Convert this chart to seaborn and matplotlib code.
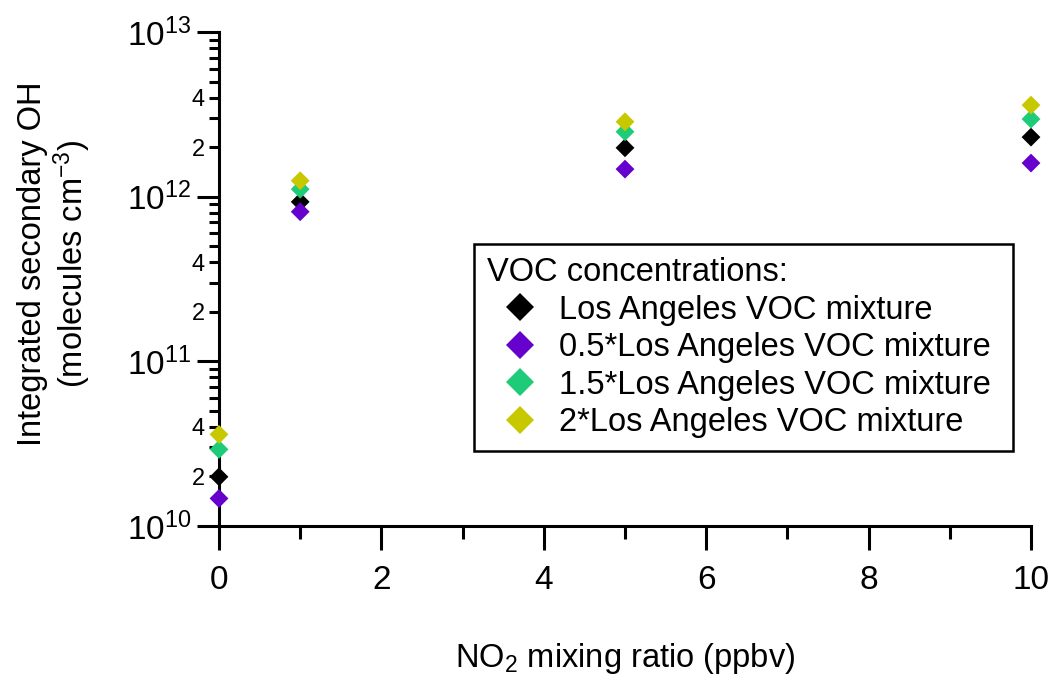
import matplotlib
matplotlib.use('Agg')
import matplotlib.pyplot as plt
import matplotlib.ticker as mticker
import numpy as np
import pandas as pd
import seaborn as sns

# NO2 mixing ratio (ppbv) and integrated secondary OH (molecules cm-3)
no2 = [0, 1, 5, 10]
oh_la = [1.99e10, 9.3e11, 1.98e12, 2.30e12]
oh_la_half = [1.47e10, 8.1e11, 1.47e12, 1.60e12]
oh_la_1p5 = [2.92e10, 1.11e12, 2.48e12, 2.96e12]
oh_la_2 = [3.6e10, 1.25e12, 2.85e12, 3.60e12]

names = ['Los Angeles VOC mixture', '0.5*Los Angeles VOC mixture',
         '1.5*Los Angeles VOC mixture', '2*Los Angeles VOC mixture']
colors = ['#000000', '#6600CC', '#1DCB78', '#C8C800']

df = pd.DataFrame({
    'no2': no2 * 4,
    'oh': oh_la + oh_la_half + oh_la_1p5 + oh_la_2,
    'voc': np.repeat(names, len(no2)),
})

sns.set_style('ticks')
plt.rcParams['font.family'] = ['Liberation Sans', 'DejaVu Sans']
plt.rcParams['mathtext.fontset'] = 'custom'
plt.rcParams['mathtext.rm'] = 'Liberation Sans'
plt.rcParams['mathtext.it'] = 'Liberation Sans'
for k in ['text.color', 'axes.labelcolor', 'xtick.color', 'ytick.color']:
    plt.rcParams[k] = 'black'

fig = plt.figure(figsize=(10.51, 6.78), dpi=100)
ax = fig.add_axes([219 / 1051, 1 - 526 / 678, 812 / 1051, 494 / 678])

sns.scatterplot(data=df, x='no2', y='oh', hue='voc', hue_order=names,
                palette=colors, marker='D', s=92, linewidth=0,
                clip_on=False, zorder=3, ax=ax)

ax.set_yscale('log')
ax.set_xlim(0, 10)
ax.set_ylim(1e10, 1e13)

ax.xaxis.set_major_locator(mticker.MultipleLocator(2))
ax.xaxis.set_minor_locator(mticker.MultipleLocator(1))
ax.yaxis.set_major_locator(mticker.LogLocator(base=10))
ax.yaxis.set_minor_locator(mticker.LogLocator(base=10, subs=np.arange(2, 10)))


def minor_fmt(v, pos):
    m = v / 10 ** np.floor(np.log10(v) + 1e-9)
    return f"{m:.0f}" if round(m) in (2, 4) else ""


ax.yaxis.set_minor_formatter(mticker.FuncFormatter(minor_fmt))

sns.despine(ax=ax)
for s in ['left', 'bottom']:
    ax.spines[s].set_linewidth(2.2)
    ax.spines[s].set_color('black')

ax.tick_params(axis='x', which='major', length=17, width=2.2, pad=11,
               labelsize=24)
ax.tick_params(axis='x', which='minor', length=9, width=2.2)
ax.tick_params(axis='y', which='major', length=16, width=2.2, pad=4,
               labelsize=24)
ax.tick_params(axis='y', which='minor', length=7, width=2.2, pad=3,
               labelsize=17)

ax.set_xlabel('NO$_2$ mixing ratio (ppbv)', fontsize=23.5)
ax.xaxis.set_label_coords(0.5, -0.232)
ax.set_ylabel('Integrated secondary OH\n(molecules cm$^{-3}$)', fontsize=23.5,
              linespacing=1.1)
ax.yaxis.set_label_coords(-0.155, 0.53)

sns.move_legend(ax, 'upper left',
                bbox_to_anchor=(474 / 1051, 1 - 451 / 678, 539 / 1051, 207 / 678),
                bbox_transform=fig.transFigure, mode='expand', borderaxespad=0,
                title='VOC concentrations:', title_fontsize=23.5, fontsize=23.5,
                alignment='left', markerscale=1.45, frameon=True,
                fancybox=False, edgecolor='black', framealpha=1,
                borderpad=0.4, labelspacing=0.2, handlelength=2.0,
                handletextpad=0.2)
ax.get_legend().get_frame().set_linewidth(1.8)

fig.savefig('out.png', dpi=100)
